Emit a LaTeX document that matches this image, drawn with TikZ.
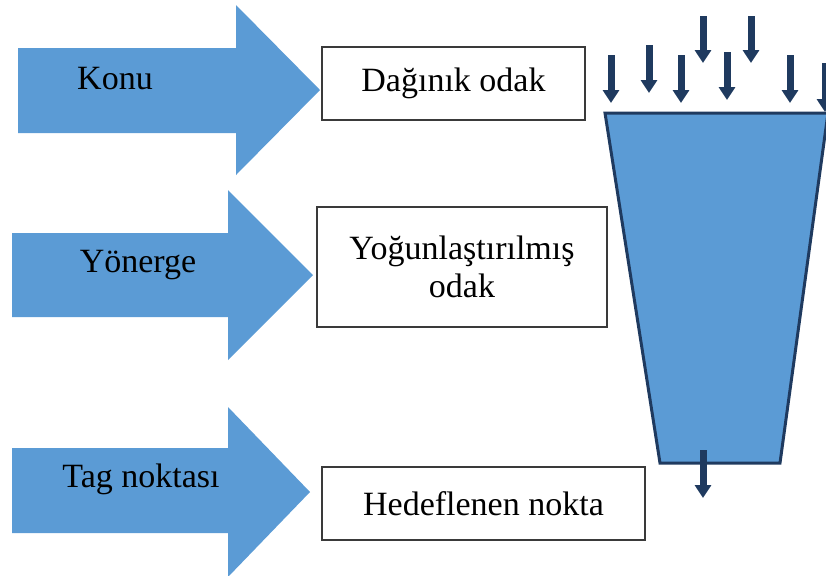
\documentclass[tikz,border=0pt]{standalone}
\usepackage{fontspec}
\setmainfont{Liberation Serif}
\usepackage{tikz}
\usetikzlibrary{arrows.meta}
\definecolor{blu}{HTML}{5B9BD5}
\definecolor{navy}{HTML}{1F3A5F}
\definecolor{edge}{HTML}{3A3A3A}
\tikzset{
  bigarr/.style={fill=blu, draw=none},
  funnel/.style={fill=blu, draw=navy, line width=1.5pt, line join=miter},
  feed/.style={-{Triangle[width=8pt,length=6.5pt]}, line width=3.5pt, draw=navy},
  lab/.style={font=\fontsize{17}{19}\selectfont, text=black, inner sep=0pt},
  box/.style={draw=edge, line width=0.6pt, fill=white, align=center,
    font=\fontsize{17}{19}\selectfont, inner sep=0pt}
}
\begin{document}
\begin{tikzpicture}[x=0.5pt, y=-0.5pt]
  \clip (0,0) rectangle (826,575);

  % big arrows: shaft left/right, shaft top/bottom, head top/bottom, tip
  \foreach \l/\r/\t/\b/\ht/\hb/\tx/\ty in
    {18/236/48/133/5/175/320/90,
     12/228/233/317/190/360/313/275,
     12/228/448/533/407/577/310/492}
    \fill[bigarr] (\l,\t) -- (\r,\t) -- (\r,\ht) -- (\tx,\ty)
      -- (\r,\hb) -- (\r,\b) -- (\l,\b) -- cycle;

  \node[lab] (konu) at (115,79) {Konu};
  \node[lab] (yonerge) at (138,265) {Yönerge};
  \node[lab] (tagn) at (141,479) {Tag noktası};

  % boxes
  \node[box, minimum width=131.5pt, minimum height=36.5pt] (dagin) at (453.5,83.5) {Dağınık odak};
  \node[box, minimum width=145pt, minimum height=60pt] (yogun) at (462,267) {Yoğunlaştırılmış\\odak};
  \node[box, minimum width=161.5pt, minimum height=36.5pt] (hedef) at (483.5,503.5) {Hedeflenen nokta};

  % funnel
  \coordinate (ftl) at (605,113);
  \coordinate (ftr) at (828,113);
  \coordinate (fbr) at (780,463);
  \coordinate (fbl) at (660,463);
  \draw[funnel] (ftl) -- (ftr) -- (fbr) -- (fbl) -- cycle;

  % arrows falling into the funnel
  \foreach \x/\t/\b [count=\i] in
    {611/55/103, 649/45/93, 681/55/103, 703/16/63,
     727/52/100, 751/16/63, 790/55/103, 825/63/112}
  {
    \coordinate (in\i s) at (\x,\t);
    \coordinate (in\i e) at (\x,\b);
    \draw[feed] (in\i s) -- (in\i e);
  }

  % arrow leaving the funnel
  \coordinate (outs) at (703,450);
  \coordinate (oute) at (703,498);
  \draw[feed] (outs) -- (oute);
\end{tikzpicture}
\end{document}
